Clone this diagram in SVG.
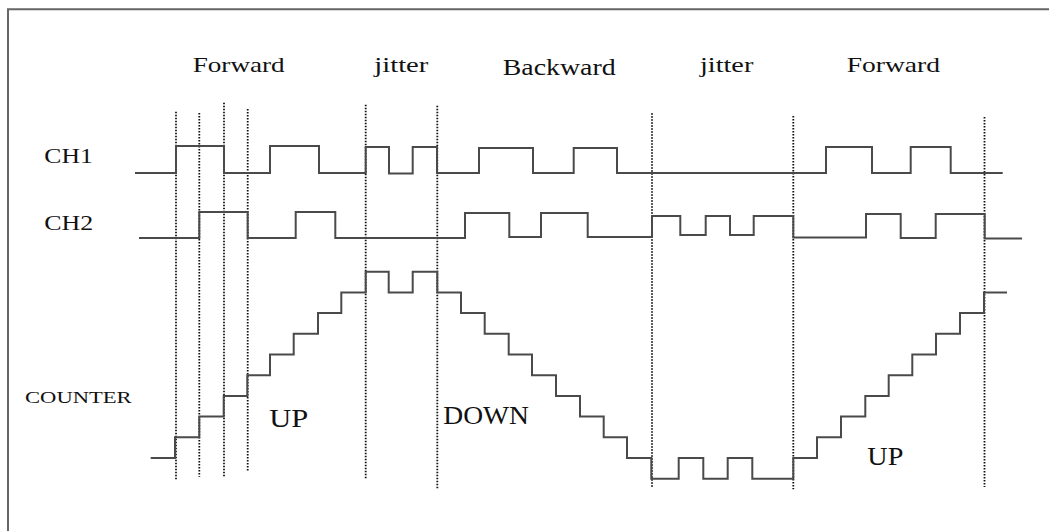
<svg xmlns="http://www.w3.org/2000/svg" width="1049" height="531" viewBox="0 0 1049 531">
<style>
.wave{fill:none;stroke:#4a4a4a;stroke-width:2;stroke-linejoin:miter}
.guide{fill:none;stroke:#111;stroke-width:1.8;stroke-dasharray:1.5 1.5}
.frame{fill:none;stroke:#666;stroke-width:2}
.lbl{font-family:'Liberation Serif','DejaVu Serif',serif;fill:#111}
.t22{font-size:22px}
.t23{font-size:23px}
.t25{font-size:25px}
.t16{font-size:16.5px}
</style>
<rect width="1049" height="531" fill="#fff"/>
<g id="frame"><path class="frame" d="M8,531 V9.3 H1049"/></g>
<g id="guides">
<line class="guide" x1="176" y1="111.7" x2="176" y2="479.3"/>
<line class="guide" x1="199.3" y1="113" x2="199.3" y2="476.7"/>
<line class="guide" x1="224" y1="102.7" x2="224" y2="476.7"/>
<line class="guide" x1="247.7" y1="109" x2="247.7" y2="471.7"/>
<line class="guide" x1="365.7" y1="104.7" x2="365.7" y2="478.3"/>
<line class="guide" x1="437.3" y1="105.7" x2="437.3" y2="489.3"/>
<line class="guide" x1="652" y1="113.3" x2="652" y2="487.3"/>
<line class="guide" x1="793.3" y1="116" x2="793.3" y2="489.3"/>
<line class="guide" x1="984.5" y1="117" x2="984.5" y2="487"/>
</g>
<g id="ch1"><path class="wave" d="M135,173 H176 V146 H224 V173 H270 V146 H319 V173 H365.7 V147 H389 V173.5 H412.7 V147 H437 V173 H479 V148 H533 V173 H573.7 V148 H617 V173 H826 V147 H872 V173 H910.7 V147 H950.7 V173 H1002.7"/></g>
<g id="ch2"><path class="wave" d="M139,238 H199.3 V212 H247.7 V238 H295.7 V212 H335.3 V238 H465 V213 H509.3 V237 H541 V213 H587.7 V237 H652 V216 H680.3 V235 H705.7 V216 H730 V235 H753.7 V216 H793.3 V237.5 H866 V214 H900.7 V238 H935.7 V214 H984.7 V238.5 H1022"/></g>
<g id="counter"><path class="wave" d="M150.7,458 H175 V437.3 H199.3 V416.6 H223.7 V395.9 H247.3 V375.2 H270 V354.5 H293.7 V333.8 H318 V313.1 H341.3 V292.4 H365.7 V271.7 H388.7 V292.4 H412.7 V271.7 H437.3 V292.4 H461 V313.1 H484.7 V333.8 H508.7 V354.5 H532 V375.2 H556 V395.9 H580 V416.6 H603.7 V437.3 H627 V458 H651.3 V478.7 H678.7 V458 H703.3 V478.7 H727.7 V458 H752.3 V478.7 H793.3 V458 H817 V437.3 H841 V416.6 H865.3 V395.9 H888.7 V375.2 H912.3 V354.5 H936 V333.8 H960 V313.1 H984 V292.4 H1007"/></g>
<g id="labels" font-family="'Liberation Serif', 'DejaVu Serif', serif">
<text class="lbl t22" x="192.7" y="71.7" textLength="92" lengthAdjust="spacingAndGlyphs">Forward</text>
<text class="lbl t22" x="374.3" y="71.7" textLength="54" lengthAdjust="spacingAndGlyphs">jitter</text>
<text class="lbl t23" x="502.7" y="75" textLength="113" lengthAdjust="spacingAndGlyphs">Backward</text>
<text class="lbl t22" x="700" y="71.7" textLength="53.3" lengthAdjust="spacingAndGlyphs">jitter</text>
<text class="lbl t22" x="846.7" y="71.7" textLength="93.3" lengthAdjust="spacingAndGlyphs">Forward</text>
<text class="lbl t22" x="44.3" y="163.3" textLength="48.4" lengthAdjust="spacingAndGlyphs">CH1</text>
<text class="lbl t22" x="44.3" y="230" textLength="49" lengthAdjust="spacingAndGlyphs">CH2</text>
<text class="lbl t16" x="25" y="402.7" textLength="106.7" lengthAdjust="spacingAndGlyphs">COUNTER</text>
<text class="lbl t25" x="269.3" y="426.7" textLength="39" lengthAdjust="spacingAndGlyphs">UP</text>
<text class="lbl t25" x="443.3" y="424" textLength="85.7" lengthAdjust="spacingAndGlyphs">DOWN</text>
<text class="lbl t25" x="867.3" y="465" textLength="36" lengthAdjust="spacingAndGlyphs">UP</text>
</g>
</svg>
